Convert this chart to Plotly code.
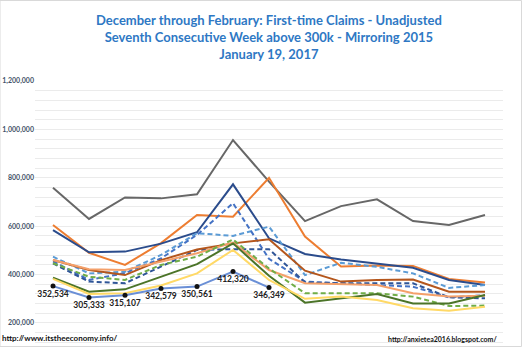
import plotly.graph_objects as go

# Week index (Dec through Feb, 13 weeks)
weeks = list(range(1, 14))

# Values in thousands
gray_solid = [759, 630, 719, 715, 732, 956, 784, 621, 683, 711, 621, 605, 646]
orange_solid = [605, 490, 440, 530, 646, 639, 800, 557, 433, 438, 436, 382, 367]
navy_solid = [584, 492, 495, 528, 575, 773, 550, 485, 462, 445, 428, 378, 357]
lightblue_dash = [474, 405, 412, 481, 571, 560, 598, 398, 449, 432, 405, 345, 357]
blue_dash = [455, 378, 406, 467, 564, 695, 465, 371, 364, 357, 350, 306, 315]
darkblue_dash = [446, 371, 364, 433, 502, 505, 505, 368, 364, 364, 364, 306, 302]
brown_solid = [460, 419, 398, 460, 504, 529, 546, 416, 371, 378, 380, 329, 329]
salmon_solid = [460, 422, 419, 453, 488, 532, 419, 364, 362, 357, 323, 309, 313]
green_dash = [447, 391, 378, 440, 474, 545, 425, 323, 323, 323, 309, 270, 272]
darkgreen_solid = [387, 329, 339, 391, 443, 529, 395, 284, 303, 320, 281, 281, 316]
yellow_solid = [382, 320, 323, 355, 405, 502, 378, 300, 309, 295, 261, 251, 267]
current_season = [352534, 305333, 315107, 342579, 350561, 412320, 346349]

series = [
    (gray_solid, "#676767", None),
    (orange_solid, "#ED7D31", None),
    (navy_solid, "#2B4C8C", None),
    (lightblue_dash, "#5B9BD5", "5px,3px"),
    (blue_dash, "#4472C4", "5px,3px"),
    (darkblue_dash, "#2F5597", "5px,3px"),
    (brown_solid, "#B4561C", None),
    (salmon_solid, "#F4A06A", None),
    (green_dash, "#70AD47", "5px,3px"),
    (darkgreen_solid, "#4B7428", None),
    (yellow_solid, "#FFD966", None),
]

Y_RANGE = [100800, 1200000]

fig = go.Figure()
for vals, color, dash in series:
    fig.add_trace(go.Scatter(
        x=weeks, y=[v * 1000 for v in vals], mode="lines",
        line=dict(color=color, width=2, dash=dash if dash else "solid"),
        hoverinfo="skip", showlegend=False))

fig.add_trace(go.Scatter(
    x=weeks[:len(current_season)], y=current_season, mode="lines+markers+text",
    line=dict(color="#6A8FD6", width=2),
    marker=dict(color="#111111", size=5),
    text=[f"{v:,}" for v in current_season], textposition="bottom center",
    textfont=dict(family="Lato", size=8.5, color="#222222", weight="bold"),
    showlegend=False))

# invisible helper trace on the minor-grid axis
fig.add_trace(go.Scatter(x=[weeks[0]], y=[current_season[0]], yaxis="y2",
                         mode="markers", marker=dict(opacity=0), hoverinfo="skip",
                         showlegend=False))

fig.update_layout(
    width=522, height=347,
    margin=dict(l=35, r=19, t=81, b=0),
    paper_bgcolor="white", plot_bgcolor="white",
    xaxis=dict(range=[0.5, 13.5], showticklabels=False, showgrid=False,
               zeroline=False, showline=False, ticks=""),
    yaxis=dict(range=Y_RANGE, tick0=0, dtick=200000,
               tickformat=",d", showgrid=True, gridcolor="#D0D0D0", gridwidth=1,
               zeroline=False, showline=False,
               tickfont=dict(family="Lato", size=7, color="#44546A", weight="bold")),
    yaxis2=dict(range=Y_RANGE, overlaying="y", side="left", tick0=0, dtick=40000,
                showgrid=True, gridcolor="#EBEBEB", gridwidth=1, showticklabels=False,
                zeroline=False, showline=False, ticks=""),
    annotations=[
        dict(text="December through February: First-time Claims - Unadjusted<br>"
                  "Seventh Consecutive Week above 300k - Mirroring 2015<br>"
                  "January 19, 2017",
             xref="paper", yref="paper", x=0.5, y=(347-37)/266, yanchor="middle",
             xanchor="center", showarrow=False,
             font=dict(family="Lato", size=13, color="#2E78C4", weight="bold")),
        dict(text="http://www.itstheeconomy.info/", xref="paper", yref="paper",
             x=-35/468, y=(347-338)/266, xanchor="left", yanchor="middle", showarrow=False,
             font=dict(family="Lato", size=8, color="#111111", weight="bold")),
        dict(text="http://anxietea2016.blogspot.com/", xref="paper", yref="paper",
             x=(499-35)/468, y=(347-339)/266, xanchor="right", yanchor="middle", showarrow=False,
             font=dict(family="Lato", size=7, color="#111111", weight="bold")),
    ],
    shapes=[dict(type="rect", xref="paper", yref="paper", x0=-35/468, x1=(521.5-35)/468,
                 y0=0.5/266, y1=(346.5)/266, line=dict(color="#D9D9D9", width=1))],
)
fig.write_html("out.html")
